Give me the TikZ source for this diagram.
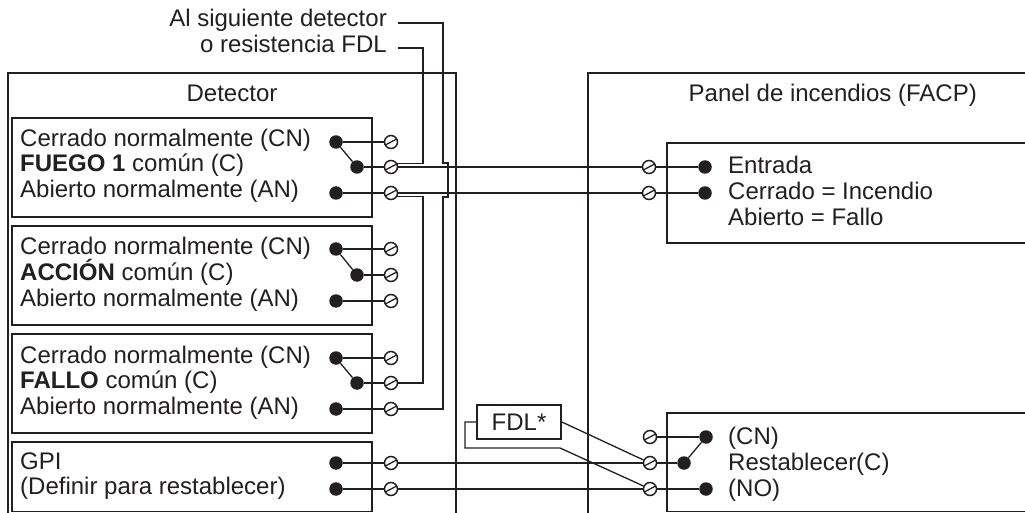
\documentclass[tikz,border=0pt]{standalone}
\usepackage{fontspec}
\setmainfont{Liberation Sans}
\usetikzlibrary{calc}
\definecolor{ink}{RGB}{35,31,32}
\begin{document}
\begin{tikzpicture}[x=1pt,y=-1pt,
  box/.style={draw=ink,line width=1.7pt},
  wire/.style={draw=ink,line width=1.3pt},
  term/.style={circle,draw=ink,line width=1.5pt,fill=white,minimum size=13pt,inner sep=0pt,
     path picture={\draw[ink,line width=1.3pt] ($(path picture bounding box.center)+(208:7pt)$) -- ($(path picture bounding box.center)+(28:7pt)$);}},
  dot/.style={circle,fill=ink,minimum size=13.5pt,inner sep=0pt},
  lbl/.style={font=\fontsize{24}{26}\selectfont,inner sep=0pt,text=ink},
]
\useasboundingbox (0,0) rectangle (1025,513);
\fill[white] (0,0) rectangle (1025,513);

% outer boxes
\draw[box] (8,520) -- (8,73) -- (456,73) -- (456,520);
\draw[box] (588,520) -- (588,73) -- (1030,73);
\node[lbl,anchor=base] (tDet) at (232,102) {Detector};
\node[lbl,anchor=base east] (tPan) at (977,102) {Panel de incendios (FACP)};

% detector inner boxes
\draw[box] (12,118) rectangle (372,217);
\draw[box] (12,226) rectangle (372,325);
\draw[box] (12,334) rectangle (372,433);
\draw[box] (12,442) rectangle (372,511.5);

% panel inner boxes
\draw[box] (1030,143) -- (667,143) -- (667,243) -- (1030,243);
\draw[box] (1030,413) -- (667,413) -- (667,511.5) -- (1030,511.5);

% detector texts
\node[lbl,anchor=base west] (l1a) at (20,147) {Cerrado normalmente (CN)};
\node[lbl,anchor=base west] (l1b) at (20,172) {\textbf{FUEGO 1} común (C)};
\node[lbl,anchor=base west] (l1c) at (20,198) {Abierto normalmente (AN)};
\node[lbl,anchor=base west] (l2a) at (20,254) {Cerrado normalmente (CN)};
\node[lbl,anchor=base west] (l2b) at (20,280) {\textbf{ACCIÓN} común (C)};
\node[lbl,anchor=base west] (l2c) at (20,306) {Abierto normalmente (AN)};
\node[lbl,anchor=base west] (l3a) at (20,363) {Cerrado normalmente (CN)};
\node[lbl,anchor=base west] (l3b) at (20,388) {\textbf{FALLO} común (C)};
\node[lbl,anchor=base west] (l3c) at (20,414) {Abierto normalmente (AN)};
\node[lbl,anchor=base west] (l4a) at (20,469) {GPI};
\node[lbl,anchor=base west] (l4b) at (20,494) {(Definir para restablecer)};

% panel texts
\node[lbl,anchor=base west] (pa) at (728,174) {Entrada};
\node[lbl,anchor=base west] (pb) at (728,199.5) {Cerrado = Incendio};
\node[lbl,anchor=base west] (pc) at (728,225.5) {Abierto = Fallo};
\node[lbl,anchor=base west] (qa) at (728,444.5) {(CN)};
\node[lbl,anchor=base west] (qb) at (728,470.5) {Restablecer(C)};
\node[lbl,anchor=base west] (qc) at (728,496.5) {(NO)};

% top labels
\node[lbl,anchor=base east] (labA) at (387,27) {Al siguiente detector};
\node[lbl,anchor=base east] (labB) at (387,53) {o resistencia FDL};
\coordinate (aS) at (398,23);
\coordinate (aC) at (443,23);
\coordinate (bS) at (398,48);
\coordinate (bC) at (423,48);

% relay contacts
\foreach \k/\yn/\yc/\ya in {1/142/167/193, 2/249/275/301, 3/358/383/409}{
  \node[dot] (d\k N) at (336,\yn) {};
  \node[dot] (d\k C) at (357,\yc) {};
  \node[dot] (d\k A) at (336,\ya) {};
  \node[term] (t\k N) at (391,\yn) {};
  \node[term] (t\k C) at (391,\yc) {};
  \node[term] (t\k A) at (391,\ya) {};
  \draw[wire] (d\k N) -- (t\k N);
  \draw[wire] (d\k C) -- (t\k C);
  \draw[wire] (d\k A) -- (t\k A);
  \draw[wire] (d\k N) -- (d\k C);
}
\node[dot] (g1) at (336,463) {};
\node[dot] (g2) at (336,489) {};
\node[term] (t4a) at (391,463) {};
\node[term] (t4b) at (391,489) {};
\draw[wire] (g1) -- (t4a);
\draw[wire] (g2) -- (t4b);

% panel terminals
\node[term] (p1) at (649,167) {};
\node[term] (p2) at (649,193) {};
\node[dot] (pd1) at (705,167) {};
\node[dot] (pd2) at (705,193) {};
\draw[wire] (p1) -- (pd1);
\draw[wire] (p2) -- (pd2);

\node[term] (q1) at (650,437) {};
\node[term] (q2) at (650,463) {};
\node[term] (q3) at (650,489) {};
\node[dot] (qd1) at (706,437) {};
\node[dot] (qd2) at (684,463) {};
\node[dot] (qd3) at (706,489) {};
\draw[wire] (q1) -- (qd1);
\draw[wire] (q2) -- (qd2);
\draw[wire] (qd2) -- (qd1);
\draw[wire] (q3) -- (qd3);

% detector to panel wiring
\draw[wire] (t1C) -- (p1);
\draw[wire] (t1A) -- (p2);
\draw[wire] (t4a) -- (q2);
\draw[wire] (t4b) -- (q3);

% loop wiring
\draw[wire] (bS) -- (bC) -- (bC |- t1C.30) -- (t1C.30);
\draw[wire] (t1A.-30) -- (t1A.-30 -| bC) -- (bC |- t3C) -- (t3C);
\draw[wire] (aS) -- (aC) -- (443,163) -- (448,163) -- (448,197) -- (443,197) -- (aC |- t3A) -- (t3A);

% FDL resistor
\node[box,lbl,minimum width=84pt,minimum height=34pt] (fdl) at (519,422) {FDL*};
\draw[wire] (fdl.east) -- (q2);
\draw[wire] (fdl.west) -- (465,422) -- (465,448) -- (560,448) -- (q3);
\end{tikzpicture}
\end{document}
